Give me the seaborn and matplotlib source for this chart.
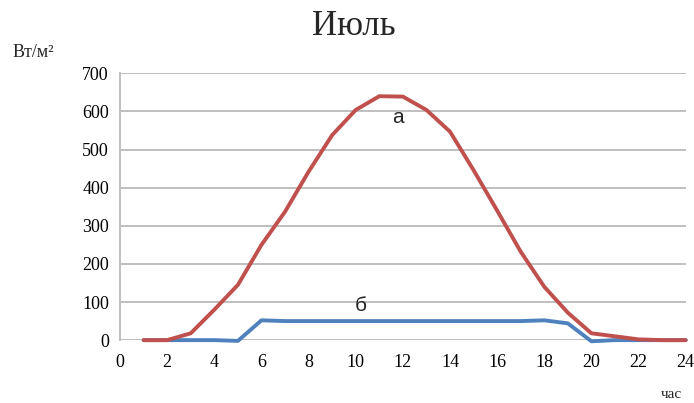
"""Суточный ход радиации, июль: кривые а и б."""

import matplotlib
matplotlib.use("Agg")
import matplotlib.pyplot as plt
import pandas as pd
import seaborn as sns

# Часы и значения (Вт/м²)
hours = list(range(1, 25))
curve_a = [0, 0, 18, 80, 145, 250, 337, 442, 538, 604, 640, 639,
           604, 547, 446, 340, 232, 140, 72, 18, 10, 2, 0, 0]
curve_b = [0, 0, 0, 0, -2, 52, 50, 50, 50, 50, 50, 50,
           50, 50, 50, 50, 50, 52, 44, -3, 0, 0, 0, 0]

x_ticks = list(range(0, 25, 2))
y_ticks = list(range(0, 701, 100))

df = pd.DataFrame({"hour": hours * 2,
                   "value": curve_b + curve_a,
                   "series": ["б"] * len(hours) + ["а"] * len(hours)})

sns.set_style("white")
plt.rcParams["font.family"] = ["Liberation Serif", "DejaVu Serif"]

fig = plt.figure(figsize=(6.94, 4.03), dpi=100)
ax = fig.add_axes([0.173, 0.156, 0.815, 0.662])

sns.lineplot(data=df, x="hour", y="value", hue="series",
             palette={"б": "#4F81BD", "а": "#C0504D"},
             linewidth=2.8, legend=False, ax=ax, clip_on=False, zorder=3,
             solid_joinstyle="round", solid_capstyle="round")

ax.set_xlim(0, 24)
ax.set_ylim(0, 700)
ax.set_xticks(x_ticks)
ax.set_yticks(y_ticks)
ax.tick_params(axis="both", length=0, labelsize=13, colors="black")
ax.tick_params(axis="x", pad=10)
ax.tick_params(axis="y", pad=8)
ax.grid(axis="y", color="#bfbfbf", linewidth=1.4)
ax.set_axisbelow(True)
for side in ["top", "right", "bottom"]:
    ax.spines[side].set_visible(False)
ax.spines["left"].set_color("#bfbfbf")
ax.spines["left"].set_linewidth(1.4)
ax.set_xlabel("")
ax.set_ylabel("")

# Подписи кривых
ax.text(11.8, 583, "а", fontsize=15, family=["Liberation Sans"], ha="center", va="center")
ax.text(10.2, 92, "б", fontsize=15, family=["Liberation Sans"], ha="center", va="center")

fig.text(0.51, 0.935, "Июль", fontsize=25, ha="center", va="center")
fig.text(0.018, 0.87, "Вт/м²", fontsize=13, ha="left", va="center")
fig.text(0.952, 0.006, "час", fontsize=11, ha="left", va="bottom")

fig.savefig("out.png", dpi=100)
plt.close(fig)
